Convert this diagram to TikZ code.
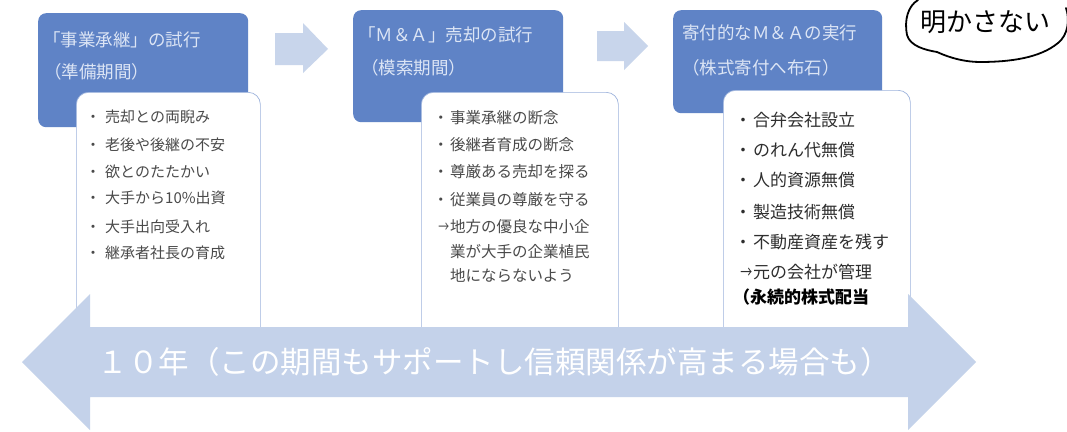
\documentclass[tikz,border=0pt]{standalone}
\usepackage{fontspec}
\newfontfamily\jp{Noto Sans CJK JP}
\definecolor{boxblue}{HTML}{5F83C6}
\definecolor{titletxt}{HTML}{DCE5F5}
\definecolor{lightarrow}{HTML}{C8D5EB}
\definecolor{bigarrow}{HTML}{C4D2EA}
\definecolor{edgeblue}{HTML}{9DB3DC}
\definecolor{bodytxt}{HTML}{4A4A4A}
\definecolor{bodytxtdark}{HTML}{2E2E2E}
\tikzset{
  titlebox/.style={fill=boxblue, rounded corners=8pt, anchor=north west, inner sep=0pt},
  listbox/.style={fill=white, draw=edgeblue, line width=0.7pt, rounded corners=12pt, anchor=north west, inner sep=0pt},
  title/.style={anchor=west, inner sep=0pt, text=titletxt, font=\jp\fontsize{17.5}{20}\selectfont},
  itemA/.style={anchor=west, inner sep=0pt, text=bodytxt, font=\jp\fontsize{15}{18}\selectfont},
  itemB/.style={anchor=west, inner sep=0pt, text=bodytxt, font=\jp\fontsize{15.5}{18}\selectfont},
  itemC/.style={anchor=west, inner sep=0pt, text=bodytxtdark, font=\jp\fontsize{17}{20}\selectfont},
  blockarrow/.style={fill=lightarrow},
}
\newcommand\bulA{\makebox[0pt][r]{・\kern4.5pt}}
\newcommand\bulB{\makebox[0pt][r]{・\kern1.5pt}}
\newcommand\arrB{\makebox[0pt][r]{\scalebox{0.7}[1]{→}\kern1pt}}
\begin{document}
\begin{tikzpicture}[x=1pt,y=-1pt]
\fill[white] (0,0) rectangle (1067,431);
\useasboundingbox (0,0) rectangle (1067,431);

% title boxes
\node[titlebox, minimum width=210pt, minimum height=114pt] (t1) at (38,13) {};
\node[titlebox, minimum width=210pt, minimum height=112pt] (t2) at (353,10) {};
\node[titlebox, minimum width=209pt, minimum height=103pt] (t3) at (673,10) {};

\node[title] (t1a) at (43,40) {「事業承継」の試行};
\node[title] (t1b) at (44,72) {（準備期間）};
\node[title] (t2a) at (358,35) {「Ｍ＆Ａ」売却の試行};
\node[title] (t2b) at (361,68) {（模索期間）};
\node[title] (t3a) at (682,33) {寄付的なＭ＆Ａの実行};
\node[title] (t3b) at (682,68) {（株式寄付へ布石）};

% list boxes
\node[listbox, minimum width=184pt, minimum height=250pt] (l1) at (76,92) {};
\node[listbox, minimum width=197pt, minimum height=250pt] (l2) at (421,92) {};
\node[listbox, minimum width=187pt, minimum height=252pt] (l3) at (723,90) {};

\node[itemA] (a1) at (105,117) {\bulA 売却との両睨み};
\node[itemA] (a2) at (105,145) {\bulA 老後や後継の不安};
\node[itemA] (a3) at (105,172) {\bulA 欲とのたたかい};
\node[itemA] (a4) at (105,198) {\bulA 大手から10\%出資};
\node[itemA] (a5) at (105,227) {\bulA 大手出向受入れ};
\node[itemA] (a6) at (105,253) {\bulA 継承者社長の育成};

\node[itemB] (b1) at (450,118) {\bulB 事業承継の断念};
\node[itemB] (b2) at (450,145) {\bulB 後継者育成の断念};
\node[itemB] (b3) at (450,172) {\bulB 尊厳ある売却を探る};
\node[itemB] (b4) at (450,200) {\bulB 従業員の尊厳を守る};
\node[itemB] (b5) at (450,227) {\arrB 地方の優良な中小企};
\node[itemB] (b6) at (450,252) {業が大手の企業植民};
\node[itemB] (b7) at (450,275) {地にならないよう};

\node[itemC] (c1) at (753,120) {\bulB 合弁会社設立};
\node[itemC] (c2) at (753,150) {\bulB のれん代無償};
\node[itemC] (c3) at (753,180) {\bulB 人的資源無償};
\node[itemC] (c4) at (753,212) {\bulB 製造技術無償};
\node[itemC] (c5) at (753,242) {\bulB 不動産資産を残す};
\node[itemC] (c6) at (753,272) {\arrB 元の会社が管理};
\node[itemC, text=black, font=\jp\bfseries\fontsize{17}{20}\selectfont] (c7) at (733,297) {（永続的株式配当};

% small block arrows
\fill[blockarrow] (275,33) -- (303,33) -- (303,23) -- (328,49) -- (303,73) -- (303,65) -- (275,65) -- cycle;
\fill[blockarrow] (597,31) -- (624,31) -- (624,22) -- (648,46) -- (624,70) -- (624,61) -- (597,61) -- cycle;

% big double arrow
\fill[bigarrow] (22,362) -- (90,294) -- (90,327) -- (908,327) -- (908,294) -- (976,362)
  -- (908,430) -- (908,397) -- (90,397) -- (90,430) -- cycle;
\node[inner sep=0pt, text=white, font=\jp\fontsize{30.5}{34}\selectfont] (band) at (494,362)
  {１０年（この期間もサポートし信頼関係が高まる場合も）};

% speech bubble
\begin{scope}
\clip (0,0) rectangle (1067,431);
\draw[line width=1.8pt, line cap=round] (918,0) .. controls (908,6) and (904,20) .. (907,35)
  .. controls (910,46) and (925,50) .. (937,52)
  .. controls (950,58) and (965,62) .. (980,62)
  .. controls (1010,62) and (1040,58) .. (1058,43)
  .. controls (1068,35) and (1070,20) .. (1066,8);
\end{scope}
\node[inner sep=0pt, font=\jp\fontsize{26}{28}\selectfont] (memo) at (985,22) {明かさない};
\end{tikzpicture}
\end{document}
